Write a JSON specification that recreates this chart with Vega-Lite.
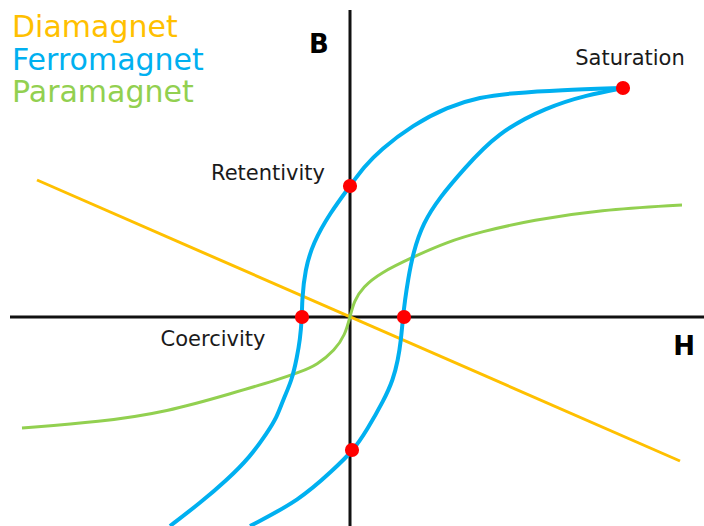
{
  "$schema": "https://vega.github.io/schema/vega-lite/v6.json",
  "width": 704,
  "height": 526,
  "padding": 0,
  "autosize": {"type": "none"},
  "background": "white",
  "config": {"view": {"stroke": null}},
  "datasets": {
    "axes": [
      {"h1": -340, "b1": 0, "h2": 354, "b2": 0},
      {"h1": 0, "b1": 307, "h2": 0, "b2": -209}
    ],
    "dia": [
      {"H": -313, "B": 137, "i": 0},
      {"H": 330, "B": -144, "i": 1}
    ],
    "ferro": [
      {"branch": "upper", "i": 0, "H": 273, "B": 229},
      {"branch": "upper", "i": 1, "H": 210, "B": 227},
      {"branch": "upper", "i": 2, "H": 163, "B": 224},
      {"branch": "upper", "i": 3, "H": 130, "B": 220},
      {"branch": "upper", "i": 4, "H": 97, "B": 210},
      {"branch": "upper", "i": 5, "H": 63, "B": 192},
      {"branch": "upper", "i": 6, "H": 30, "B": 167},
      {"branch": "upper", "i": 7, "H": 14, "B": 150},
      {"branch": "upper", "i": 8, "H": 0, "B": 131},
      {"branch": "upper", "i": 9, "H": -20, "B": 104},
      {"branch": "upper", "i": 10, "H": -37, "B": 74},
      {"branch": "upper", "i": 11, "H": -45, "B": 47},
      {"branch": "upper", "i": 12, "H": -48, "B": 17},
      {"branch": "upper", "i": 13, "H": -48, "B": 0},
      {"branch": "upper", "i": 14, "H": -50, "B": -23},
      {"branch": "upper", "i": 15, "H": -53, "B": -40},
      {"branch": "upper", "i": 16, "H": -58, "B": -63},
      {"branch": "upper", "i": 17, "H": -67, "B": -83},
      {"branch": "upper", "i": 18, "H": -73, "B": -100},
      {"branch": "upper", "i": 19, "H": -83, "B": -116},
      {"branch": "upper", "i": 20, "H": -100, "B": -140},
      {"branch": "upper", "i": 21, "H": -123, "B": -163},
      {"branch": "upper", "i": 22, "H": -150, "B": -186},
      {"branch": "upper", "i": 23, "H": -180, "B": -209},
      {"branch": "lower", "i": 0, "H": -100, "B": -209},
      {"branch": "lower", "i": 1, "H": -50, "B": -183},
      {"branch": "lower", "i": 2, "H": -17, "B": -153},
      {"branch": "lower", "i": 3, "H": 3, "B": -134},
      {"branch": "lower", "i": 4, "H": 17, "B": -113},
      {"branch": "lower", "i": 5, "H": 34, "B": -83},
      {"branch": "lower", "i": 6, "H": 43, "B": -63},
      {"branch": "lower", "i": 7, "H": 48, "B": -43},
      {"branch": "lower", "i": 8, "H": 51, "B": -23},
      {"branch": "lower", "i": 9, "H": 53, "B": 0},
      {"branch": "lower", "i": 10, "H": 55, "B": 17},
      {"branch": "lower", "i": 11, "H": 58, "B": 37},
      {"branch": "lower", "i": 12, "H": 63, "B": 64},
      {"branch": "lower", "i": 13, "H": 73, "B": 94},
      {"branch": "lower", "i": 14, "H": 90, "B": 120},
      {"branch": "lower", "i": 15, "H": 113, "B": 147},
      {"branch": "lower", "i": 16, "H": 147, "B": 184},
      {"branch": "lower", "i": 17, "H": 197, "B": 210},
      {"branch": "lower", "i": 18, "H": 237, "B": 222},
      {"branch": "lower", "i": 19, "H": 273, "B": 229}
    ],
    "para": [
      {"i": 0, "H": -328, "B": -111},
      {"i": 1, "H": -250, "B": -105},
      {"i": 2, "H": -183, "B": -95},
      {"i": 3, "H": -117, "B": -76},
      {"i": 4, "H": -73, "B": -63},
      {"i": 5, "H": -50, "B": -55},
      {"i": 6, "H": -33, "B": -48},
      {"i": 7, "H": -15, "B": -33},
      {"i": 8, "H": -5, "B": -18},
      {"i": 9, "H": 0, "B": 0},
      {"i": 10, "H": 4, "B": 16},
      {"i": 11, "H": 13, "B": 30},
      {"i": 12, "H": 30, "B": 44},
      {"i": 13, "H": 63, "B": 60},
      {"i": 14, "H": 97, "B": 75},
      {"i": 15, "H": 130, "B": 85},
      {"i": 16, "H": 183, "B": 97},
      {"i": 17, "H": 250, "B": 107},
      {"i": 18, "H": 332, "B": 112}
    ],
    "dots": [
      {"name": "Saturation", "H": 273, "B": 229},
      {"name": "Retentivity", "H": 0, "B": 131},
      {"name": "Coercivity -", "H": -48, "B": 0},
      {"name": "Coercivity +", "H": 54, "B": 0},
      {"name": "Retentivity -", "H": 2, "B": -133}
    ],
    "labels": [
      {"text": "Saturation", "H": 280, "B": 258},
      {"text": "Retentivity", "H": -82, "B": 143},
      {"text": "Coercivity", "H": -137, "B": -23}
    ],
    "axisLabels": [
      {"text": "B", "H": -31, "B": 272},
      {"text": "H", "H": 334, "B": -30}
    ],
    "legend": [
      {"text": "Diamagnet", "H": -338, "B": 280, "color": "#FFC000"},
      {"text": "Ferromagnet", "H": -338, "B": 247, "color": "#00B0F0"},
      {"text": "Paramagnet", "H": -338, "B": 215, "color": "#92D050"}
    ]
  },
  "layer": [
    {
      "data": {"name": "axes"},
      "mark": {"type": "rule", "color": "#111111", "strokeWidth": 3},
      "encoding": {
        "x": {"field": "h1", "type": "quantitative", "scale": {"domain": [-350, 354], "nice": false, "zero": false}, "axis": null},
        "y": {"field": "b1", "type": "quantitative", "scale": {"domain": [-209, 317], "nice": false, "zero": false}, "axis": null},
        "x2": {"field": "h2"},
        "y2": {"field": "b2"}
      }
    },
    {
      "data": {"name": "dia"},
      "mark": {"type": "line", "color": "#FFC000", "strokeWidth": 3},
      "encoding": {
        "x": {"field": "H", "type": "quantitative"},
        "y": {"field": "B", "type": "quantitative"},
        "order": {"field": "i"}
      }
    },
    {
      "data": {"name": "para"},
      "mark": {"type": "line", "color": "#92D050", "strokeWidth": 3, "interpolate": "basis"},
      "encoding": {
        "x": {"field": "H", "type": "quantitative"},
        "y": {"field": "B", "type": "quantitative"},
        "order": {"field": "i"}
      }
    },
    {
      "data": {"name": "ferro"},
      "mark": {"type": "line", "color": "#00B0F0", "strokeWidth": 4, "interpolate": "basis"},
      "encoding": {
        "x": {"field": "H", "type": "quantitative"},
        "y": {"field": "B", "type": "quantitative"},
        "detail": {"field": "branch"},
        "order": {"field": "i"}
      }
    },
    {
      "data": {"name": "dots"},
      "mark": {"type": "circle", "color": "#FF0000", "opacity": 1, "size": 200},
      "encoding": {
        "x": {"field": "H", "type": "quantitative"},
        "y": {"field": "B", "type": "quantitative"}
      }
    },
    {
      "data": {"name": "labels"},
      "mark": {"type": "text", "font": "DejaVu Sans", "fontSize": 21, "color": "#1a1a1a", "align": "center", "baseline": "middle"},
      "encoding": {
        "x": {"field": "H", "type": "quantitative"},
        "y": {"field": "B", "type": "quantitative"},
        "text": {"field": "text"}
      }
    },
    {
      "data": {"name": "axisLabels"},
      "mark": {"type": "text", "font": "DejaVu Sans", "fontSize": 26, "fontWeight": "bold", "color": "#000000", "align": "center", "baseline": "middle"},
      "encoding": {
        "x": {"field": "H", "type": "quantitative"},
        "y": {"field": "B", "type": "quantitative"},
        "text": {"field": "text"}
      }
    },
    {
      "data": {"name": "legend"},
      "mark": {"type": "text", "font": "DejaVu Sans", "fontSize": 30, "align": "left", "baseline": "alphabetic"},
      "encoding": {
        "x": {"field": "H", "type": "quantitative"},
        "y": {"field": "B", "type": "quantitative"},
        "text": {"field": "text"},
        "color": {"field": "color", "type": "nominal", "scale": null, "legend": null}
      }
    }
  ]
}
